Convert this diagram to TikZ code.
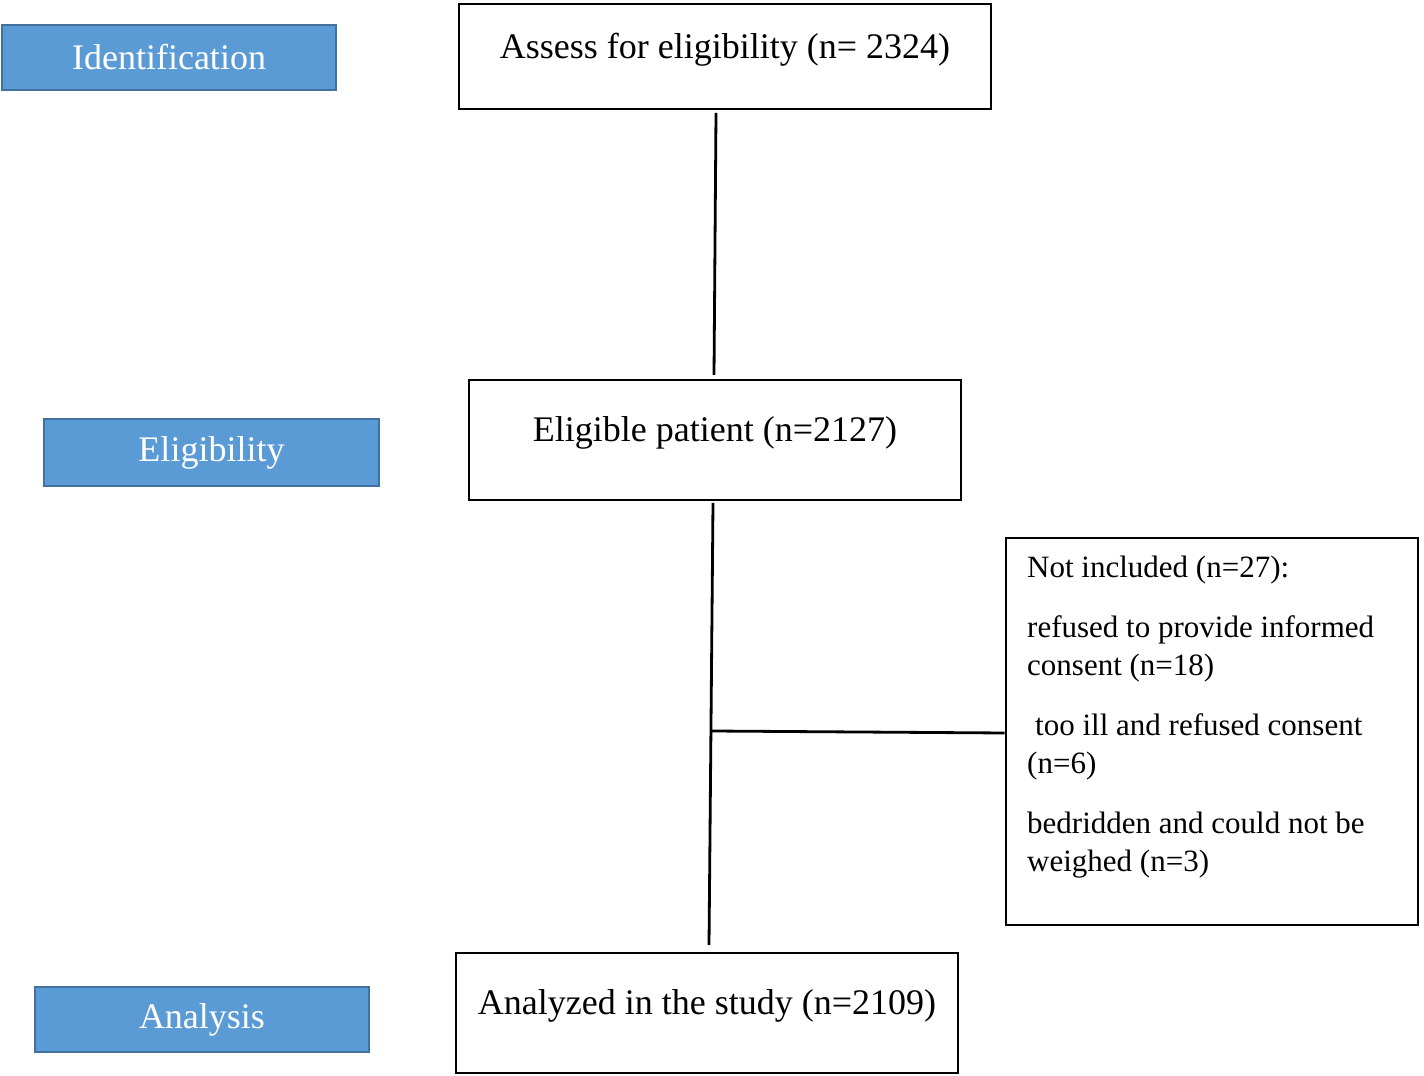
\documentclass[tikz,border=0pt]{standalone}
\usepackage{fontspec}
\setmainfont{Liberation Serif}
\definecolor{lblfill}{HTML}{5B9BD5}
\definecolor{lbldraw}{HTML}{41719C}
\begin{document}
\begin{tikzpicture}[x=1pt,y=1pt,
  stage/.style={draw=lbldraw,fill=lblfill,line width=2.5pt,text=white,
    font=\fontsize{36}{40}\selectfont,inner sep=0pt},
  box/.style={draw=black,line width=2.6pt,inner sep=0pt},
  boxtext/.style={font=\fontsize{36}{40}\selectfont,inner sep=0pt},
  conn/.style={line width=2.8pt}]
\useasboundingbox (0,0) rectangle (1424,1076);
% stage labels
\node[stage,minimum width=334pt,minimum height=65pt] (ident) at (169,1018.5) {Identification};
\node[stage,minimum width=335pt,minimum height=67pt] (elig) at (211.5,623.5) {Eligibility};
\node[stage,minimum width=334pt,minimum height=65pt] (anal) at (202,56.5) {Analysis};
% flow boxes
\node[box,minimum width=532pt,minimum height=105pt] (assess) at (725,1019.5) {};
\node[boxtext] (assessT) at (725,1026) {Assess for eligibility (n= 2324)};
\node[box,minimum width=492pt,minimum height=120pt] (eligible) at (715,636) {};
\node[boxtext] (eligibleT) at (715,643) {Eligible patient (n=2127)};
\node[box,minimum width=502pt,minimum height=120pt] (analyzed) at (707,63) {};
\node[boxtext] (analyzedT) at (707,70) {Analyzed in the study (n=2109)};
\node[box,minimum width=412pt,minimum height=387pt] (notinc) at (1212,344.5) {};
\node[anchor=north west,inner sep=0pt,align=left,font=\fontsize{31}{38.5}\selectfont] (notincT) at (1027,520)
 {Not included (n=27):\\[21pt]
  refused to provide informed\\
  consent (n=18)\\[21pt]
  \hspace{8pt}too ill and refused consent\\
  (n=6)\\[21pt]
  bedridden and could not be\\
  weighed (n=3)};
% connectors
\coordinate (c1a) at (716,963);
\coordinate (c1b) at (714,701);
\coordinate (c2a) at (713,573);
\coordinate (c2b) at (709,131);
\coordinate (jn) at (711,345);
\draw[conn] (c1a) -- (c1b);
\draw[conn] (c2a) -- (c2b);
\draw[conn] (jn) -- (notinc.west |- 0,343);
\end{tikzpicture}
\end{document}
